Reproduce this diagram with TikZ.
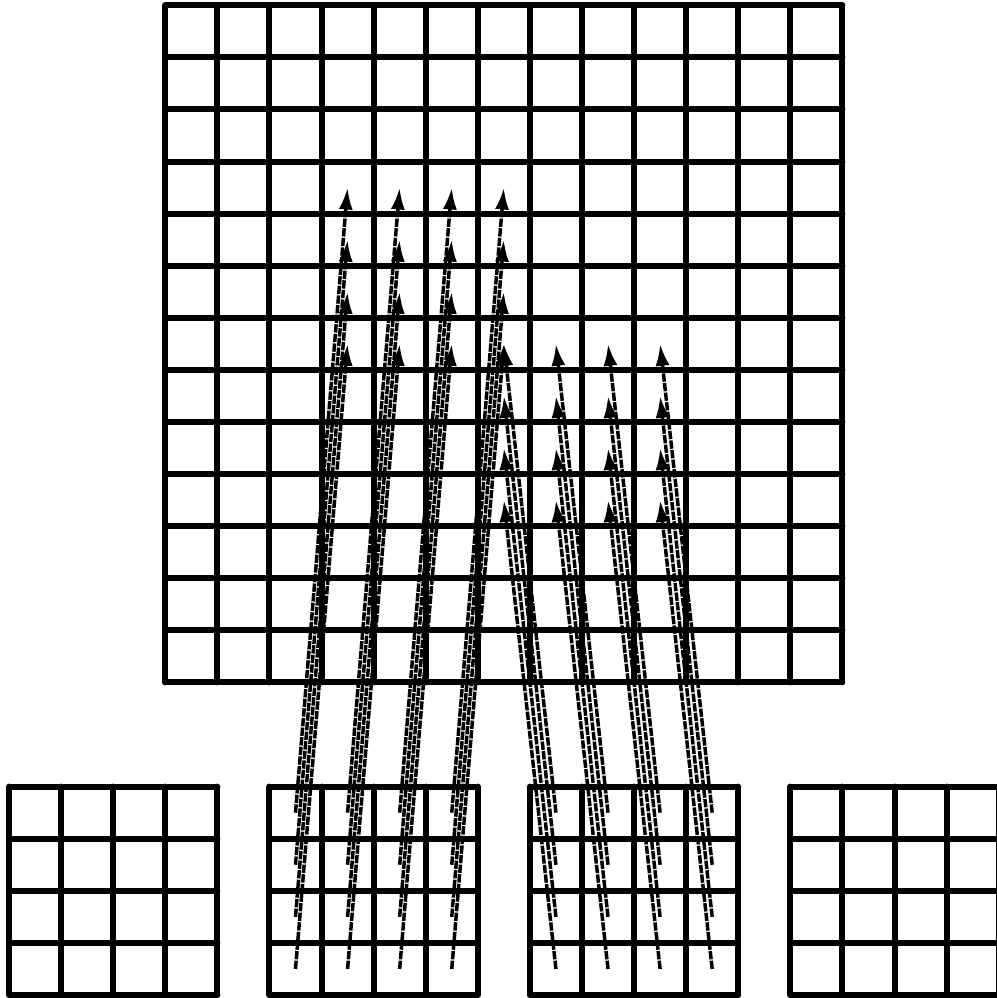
\documentclass[tikz,border=0pt]{standalone}
\usetikzlibrary{arrows.meta}
\begin{document}
\begin{tikzpicture}[
  gridline/.style={line width=3.27pt, line cap=round, line join=round},
  link/.style={line width=1.9pt, dash pattern=on 0.16cm off 0.025cm,
    -{Latex[length=0.42cm,width=0.27cm]}}
]
\useasboundingbox (-0.173,-0.058) rectangle (18.951,19.102);
% grids
\draw[gridline] (3,6) grid (16,19);
\foreach \g in {0,1,2,3}{
  \draw[gridline] (5*\g,0) grid (5*\g+4,4);
}
% cell centre coordinates
\foreach \r in {0,...,12}{
  \foreach \k in {0,...,12}{
    \coordinate (B-\r-\k) at (3.5+\k,18.5-\r);
  }
}
\foreach \g in {0,1,2,3}{
  \foreach \r in {0,...,3}{
    \foreach \c in {0,...,3}{
      \coordinate (S\g-\r-\c) at (5*\g+0.5+\c,3.5-\r);
    }
  }
}
% connectors
\foreach \r in {0,...,3}{
  \foreach \c in {0,...,3}{
    \pgfmathtruncatemacro{\ra}{3+\r}
    \pgfmathtruncatemacro{\ca}{3+\c}
    \pgfmathtruncatemacro{\rb}{6+\r}
    \pgfmathtruncatemacro{\cb}{6+\c}
    \draw[link] (S1-\r-\c) -- (B-\ra-\ca);
    \draw[link] (S2-\r-\c) -- (B-\rb-\cb);
  }
}
\end{tikzpicture}
\end{document}
